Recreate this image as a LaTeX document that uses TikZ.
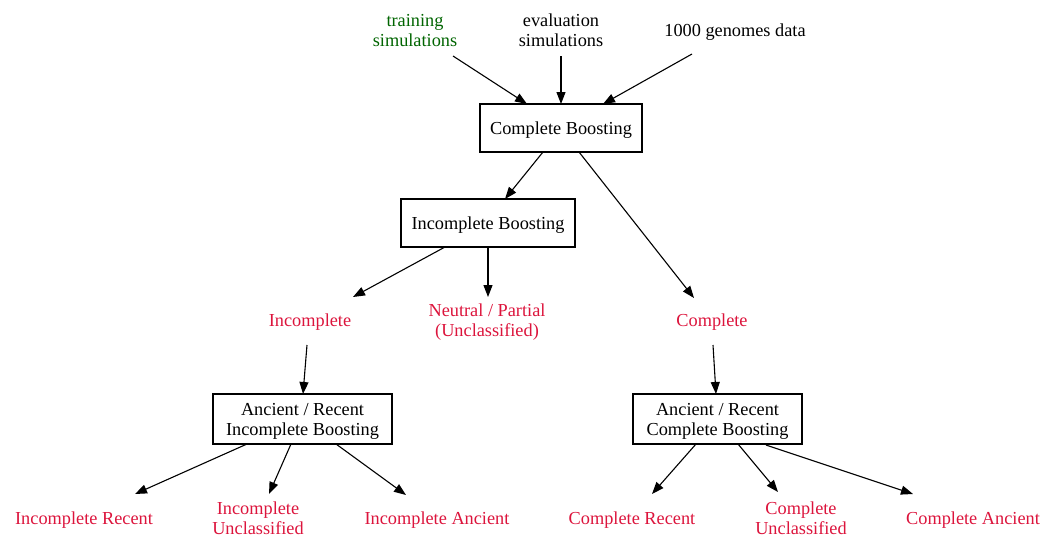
\documentclass[tikz,border=0pt]{standalone}
\usepackage{fontspec}
\setmainfont{Liberation Serif}
\usetikzlibrary{arrows.meta}
\definecolor{crim}{HTML}{DC143C}
\definecolor{dgreen}{HTML}{006400}
\tikzset{
  lbl/.style={inner sep=0pt, align=center, text depth=0pt, font=\fontsize{18.3}{20}\selectfont},
  res/.style={lbl, text=crim},
  boxnode/.style={lbl, draw, line width=1.1pt},
  edge/.style={line width=1.1pt, -{Triangle[length=12pt,width=9pt]}}
}
\begin{document}
\begin{tikzpicture}[x=1pt,y=-1pt]
\useasboundingbox (0,0) rectangle (1056,549);
% inputs
\node[lbl, text=dgreen] (train) at (415,30) {training\\simulations};
\node[lbl] (eval) at (561,30) {evaluation\\simulations};
\node[lbl] (geno) at (735,30) {1000 genomes data};
% boxes
\node[boxnode, minimum width=162pt, minimum height=48pt] (cb) at (561,128) {Complete Boosting};
\node[boxnode, minimum width=174pt, minimum height=48pt] (ib) at (488,223) {Incomplete Boosting};
\node[boxnode, minimum width=179pt, minimum height=50pt] (arib) at (302.5,419) {Ancient / Recent\\Incomplete Boosting};
\node[boxnode, minimum width=169pt, minimum height=50pt] (arcb) at (717.5,419) {Ancient / Recent\\Complete Boosting};
% intermediate
\node[res] (inc) at (310,320) {Incomplete};
\node[res] (neu) at (487,320) {Neutral / Partial\\(Unclassified)};
\node[res] (com) at (712,320) {Complete};
% leaves
\node[res] (ir) at (84,518) {Incomplete Recent};
\node[res] (iu) at (258,518) {Incomplete\\Unclassified};
\node[res] (ia) at (437,518) {Incomplete Ancient};
\node[res] (cr) at (632,518) {Complete Recent};
\node[res] (cu) at (801,518) {Complete\\Unclassified};
\node[res] (ca) at (973,518) {Complete Ancient};
% edges
\draw[edge] ([shift={(38,26)}]train.center) -- ([shift={(-34,-24)}]cb.center);
\draw[edge] ([shift={(0,26)}]eval.center) -- ([shift={(0,-24)}]cb.center);
\draw[edge] ([shift={(-43,24)}]geno.center) -- ([shift={(42,-24)}]cb.center);
\draw[edge] ([shift={(-18,24)}]cb.center) -- ([shift={(17,-24)}]ib.center);
\draw[edge] ([shift={(18,24)}]cb.center) -- ([shift={(-18,-22)}]com.center);
\draw[edge] ([shift={(-43,24)}]ib.center) -- ([shift={(43,-23)}]inc.center);
\draw[edge] ([shift={(0,24)}]ib.center) -- ([shift={(1,-23)}]neu.center);
\draw[edge] ([shift={(-3,25)}]inc.center) -- ([shift={(0.5,-25)}]arib.center);
\draw[edge] ([shift={(1,25)}]com.center) -- ([shift={(-1.5,-25)}]arcb.center);
\draw[edge] ([shift={(-55.5,25)}]arib.center) -- ([shift={(51,-24)}]ir.center);
\draw[edge] ([shift={(-11.5,25)}]arib.center) -- ([shift={(11,-24)}]iu.center);
\draw[edge] ([shift={(33.5,25)}]arib.center) -- ([shift={(-31,-23)}]ia.center);
\draw[edge] ([shift={(-21.5,25)}]arcb.center) -- ([shift={(20,-24)}]cr.center);
\draw[edge] ([shift={(20.5,25)}]arcb.center) -- ([shift={(-23,-26)}]cu.center);
\draw[edge] ([shift={(48.5,26)}]arcb.center) -- ([shift={(-60,-24)}]ca.center);
\end{tikzpicture}
\end{document}
